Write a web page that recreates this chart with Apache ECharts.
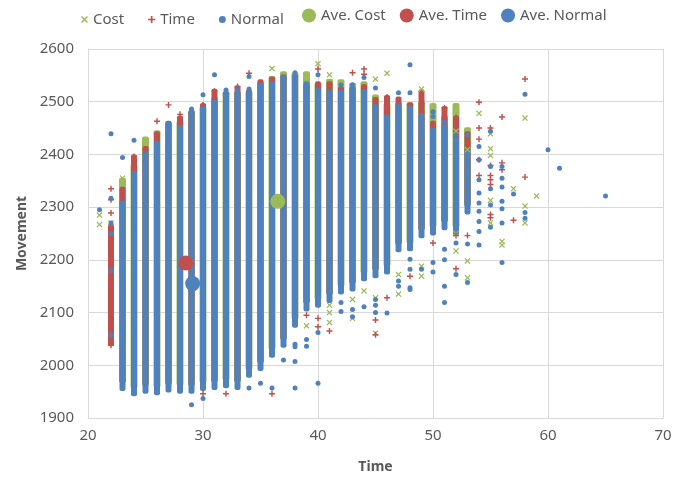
<!DOCTYPE html>
<html>
<head>
<meta charset="utf-8">
<script src="https://cdn.jsdelivr.net/npm/echarts@6/dist/echarts.min.js"></script>
<style>
  html, body { margin: 0; padding: 0; background: #fff; }
  #chart { width: 687px; height: 479px; }
</style>
</head>
<body>
<div id="chart"></div>
<script>
// dense columns: [time, lowest movement, highest movement]
const normalBand = [
  [23, 1955, 2309], [24, 1945, 2365], [25, 1950, 2402], [26, 1947, 2422], [27, 1952, 2458],
  [28, 1950, 2452], [29, 1950, 2480], [30, 1955, 2488], [31, 1957, 2500], [32, 1960, 2516],
  [33, 1957, 2516], [34, 1980, 2516], [35, 1993, 2532], [36, 2018, 2535], [37, 2037, 2548],
  [38, 2075, 2548], [39, 2106, 2535], [40, 2113, 2522], [41, 2122, 2519], [42, 2138, 2519],
  [43, 2144, 2525], [44, 2163, 2520], [45, 2169, 2492], [46, 2176, 2472], [47, 2218, 2492],
  [48, 2220, 2488], [49, 2245, 2475], [50, 2250, 2447], [51, 2260, 2453], [52, 2250, 2428],
  [53, 2290, 2409]
];
const costBand = [
  [23, 1970, 2352], [24, 1960, 2378], [25, 1965, 2430], [26, 1962, 2442], [27, 1967, 2458],
  [28, 1965, 2460], [29, 1965, 2480], [30, 1970, 2488], [31, 1972, 2505], [32, 1975, 2516],
  [33, 1972, 2516], [34, 1995, 2516], [35, 2008, 2535], [36, 2033, 2545], [37, 2052, 2554],
  [38, 2090, 2552], [39, 2121, 2554], [40, 2128, 2532], [41, 2137, 2540], [42, 2153, 2539],
  [43, 2159, 2532], [44, 2178, 2535], [45, 2184, 2510], [46, 2191, 2494], [47, 2233, 2495],
  [48, 2235, 2495], [49, 2260, 2497], [50, 2265, 2494], [51, 2275, 2470], [52, 2265, 2494],
  [53, 2305, 2448]
];
const timeBand = [
  [22, 2040, 2265], [23, 1970, 2335], [24, 1960, 2396], [25, 1965, 2412], [26, 1962, 2440],
  [27, 1967, 2460], [28, 1965, 2470], [29, 1965, 2481], [30, 1970, 2494], [31, 1972, 2521],
  [32, 1975, 2516], [33, 1972, 2527], [34, 1995, 2520], [35, 2008, 2539], [36, 2033, 2544],
  [37, 2052, 2548], [38, 2090, 2548], [39, 2121, 2530], [40, 2128, 2535], [41, 2137, 2535],
  [42, 2153, 2525], [43, 2159, 2525], [44, 2178, 2530], [45, 2184, 2505], [46, 2191, 2509],
  [47, 2233, 2506], [48, 2235, 2495], [49, 2260, 2520], [50, 2265, 2460], [51, 2275, 2488],
  [52, 2265, 2470], [53, 2305, 2440]
];

// scattered points: [time, movement]
const normalPts = [
  [21, 2295], [22, 2439], [22, 2317], [22, 2270], [22, 2250], [22, 2180], [22, 2058],
  [23, 2394], [24, 2427], [29, 1925], [29, 2486], [30, 2513], [30, 1937], [31, 2551],
  [32, 2522], [33, 2522], [34, 2548], [34, 2524], [34, 1957], [35, 1966], [36, 1957],
  [37, 2010], [38, 2555], [38, 2040], [38, 2035], [38, 2007], [38, 1957], [39, 2049],
  [39, 2036], [40, 2551], [40, 2062], [40, 1966], [42, 2532], [42, 2119], [42, 2102],
  [43, 2532], [43, 2106], [43, 2092], [44, 2546], [44, 2111], [45, 2526], [45, 2125],
  [45, 2114], [45, 2100], [46, 2099], [47, 2517], [47, 2160], [47, 2150], [48, 2570],
  [48, 2517], [48, 2201], [48, 2182], [48, 2147], [48, 2144], [49, 2182], [50, 2481],
  [50, 2472], [50, 2195], [50, 2177], [51, 2461], [51, 2220], [51, 2200], [51, 2150],
  [51, 2119], [52, 2437], [52, 2232], [52, 2172], [53, 2437], [53, 2230], [53, 2157],
  [54, 2415], [54, 2390], [54, 2352], [54, 2327], [54, 2308], [54, 2292], [54, 2273],
  [54, 2254], [54, 2228], [55, 2444], [55, 2377], [55, 2335], [55, 2304], [55, 2262],
  [56, 2377], [56, 2355], [56, 2338], [56, 2311], [56, 2297], [56, 2270], [56, 2195],
  [57, 2325], [58, 2514], [58, 2290], [58, 2279], [60, 2409], [61, 2374], [65, 2321]
];
const costPts = [
  [21, 2285], [21, 2267], [22, 2270], [23, 2355], [36, 2563], [39, 2075], [40, 2572],
  [41, 2551], [41, 2114], [41, 2100], [41, 2081], [43, 2125], [43, 2089], [44, 2141],
  [45, 2543], [45, 2128], [45, 2061], [46, 2554], [47, 2172], [47, 2135], [49, 2524],
  [49, 2188], [49, 2169], [52, 2444], [52, 2250], [52, 2217], [53, 2409], [53, 2198],
  [53, 2166], [54, 2478], [55, 2439], [55, 2411], [55, 2398], [55, 2313], [55, 2270],
  [56, 2235], [56, 2228], [57, 2335], [58, 2469], [58, 2302], [58, 2270], [59, 2321]
];
const timePts = [
  [22, 2335], [22, 2314], [22, 2289], [22, 2038], [24, 2396], [24, 2388], [25, 2410],
  [26, 2463], [27, 2494], [28, 2476], [30, 2494], [30, 1946], [31, 2520], [32, 1946],
  [33, 2529], [34, 2554], [36, 1946], [39, 2095], [40, 2562], [40, 2089], [40, 2073],
  [41, 2065], [43, 2555], [44, 2562], [44, 2552], [45, 2086], [45, 2058], [46, 2509],
  [46, 2128], [48, 2169], [50, 2232], [51, 2488], [52, 2470], [52, 2246], [52, 2183],
  [53, 2246], [54, 2499], [54, 2450], [54, 2429], [54, 2390], [54, 2360], [55, 2450],
  [55, 2379], [55, 2360], [55, 2352], [55, 2343], [55, 2286], [55, 2280], [56, 2471],
  [56, 2384], [56, 2371], [57, 2275], [58, 2543], [58, 2357]
];

const aveCost = [[36.5, 2311]];
const aveTime = [[28.5, 2194]];
const aveNormal = [[29.1, 2155]];

const xTicks = [20, 30, 40, 50, 60, 70];
const yTicks = [1900, 2000, 2100, 2200, 2300, 2400, 2500, 2600];

const GREEN = '#9BBB59', RED = '#C0504D', BLUE = '#4F81BD';
const FONT = 'Noto Sans';
const crossPath = 'path://M0,1.5L1.5,0L5,3.5L8.5,0L10,1.5L6.5,5L10,8.5L8.5,10L5,6.5L1.5,10L0,8.5L3.5,5Z';
const plusPath = 'path://M3.8,0H6.2V3.8H10V6.2H6.2V10H3.8V6.2H0V3.8H3.8Z';

function bandSeries(name, data, color, width) {
  return {
    name, type: 'custom', data,
    encode: { x: 0, y: [1, 2] },
    silent: true,
    renderItem: function (params, api) {
      const lo = api.coord([api.value(0), api.value(1)]);
      const hi = api.coord([api.value(0), api.value(2)]);
      return {
        type: 'rect',
        shape: { x: lo[0] - width / 2, y: hi[1] - 2, width: width, height: lo[1] - hi[1] + 4, r: 2 },
        style: { fill: color }
      };
    }
  };
}

const chart = echarts.init(document.getElementById('chart'), null, { renderer: 'canvas' });
chart.setOption({
  animation: false,
  backgroundColor: '#fff',
  textStyle: { fontFamily: FONT },
  grid: { left: 88, right: 24, top: 49, bottom: 61 },
  legend: [{
    top: 7, left: 76, itemWidth: 7, itemHeight: 7, itemGap: 24,
    textStyle: { color: '#595959', fontSize: 15, fontFamily: FONT },
    data: [
      { name: 'Cost', icon: crossPath, itemStyle: { color: GREEN } },
      { name: 'Time', icon: plusPath, itemStyle: { color: RED } },
      { name: 'Normal', icon: 'circle', itemStyle: { color: BLUE } }
    ]
  }, {
    top: 3, left: 297, itemWidth: 14, itemHeight: 14, itemGap: 14,
    textStyle: { color: '#595959', fontSize: 15, fontFamily: FONT },
    data: [
      { name: 'Ave. Cost', icon: 'circle', itemStyle: { color: GREEN } },
      { name: 'Ave. Time', icon: 'circle', itemStyle: { color: RED } },
      { name: 'Ave. Normal', icon: 'circle', itemStyle: { color: BLUE } }
    ]
  }],
  xAxis: {
    type: 'value', min: xTicks[0], max: xTicks[xTicks.length - 1], interval: 10,
    name: 'Time', nameLocation: 'middle', nameGap: 42,
    nameTextStyle: { color: '#595959', fontSize: 14, fontWeight: 'bold', fontFamily: FONT },
    axisLine: { show: true, lineStyle: { color: '#d9d9d9' } },
    axisTick: { show: false },
    axisLabel: { color: '#595959', fontSize: 15, margin: 10, formatter: v => String(v) },
    splitLine: { show: true, lineStyle: { color: '#d9d9d9' } }
  },
  yAxis: {
    type: 'value', min: yTicks[0], max: yTicks[yTicks.length - 1], interval: 100,
    name: 'Movement', nameLocation: 'middle', nameGap: 56,
    nameTextStyle: { color: '#595959', fontSize: 14, fontWeight: 'bold', fontFamily: FONT },
    axisLine: { show: true, lineStyle: { color: '#d9d9d9' } },
    axisTick: { show: false },
    axisLabel: { color: '#595959', fontSize: 15, margin: 14, formatter: v => String(v) },
    splitLine: { show: true, lineStyle: { color: '#d9d9d9' } }
  },
  series: [
    bandSeries('Cost', costBand, GREEN, 7),
    { name: 'Cost', type: 'scatter', data: costPts, symbol: crossPath, symbolSize: 6, itemStyle: { color: GREEN, opacity: 1 } },
    bandSeries('Time', timeBand, RED, 6),
    { name: 'Time', type: 'scatter', data: timePts, symbol: plusPath, symbolSize: 6, itemStyle: { color: RED, opacity: 1 } },
    bandSeries('Normal', normalBand, BLUE, 6),
    { name: 'Normal', type: 'scatter', data: normalPts, symbol: 'circle', symbolSize: 5, itemStyle: { color: BLUE, opacity: 1 } },
    { name: 'Ave. Cost', type: 'scatter', data: aveCost, symbolSize: 15, itemStyle: { color: GREEN, opacity: 1 } },
    { name: 'Ave. Time', type: 'scatter', data: aveTime, symbolSize: 15, itemStyle: { color: RED, opacity: 1 } },
    { name: 'Ave. Normal', type: 'scatter', data: aveNormal, symbolSize: 15, itemStyle: { color: BLUE, opacity: 1 } }
  ]
});
window.addEventListener('resize', () => chart.resize());
</script>
</body>
</html>
